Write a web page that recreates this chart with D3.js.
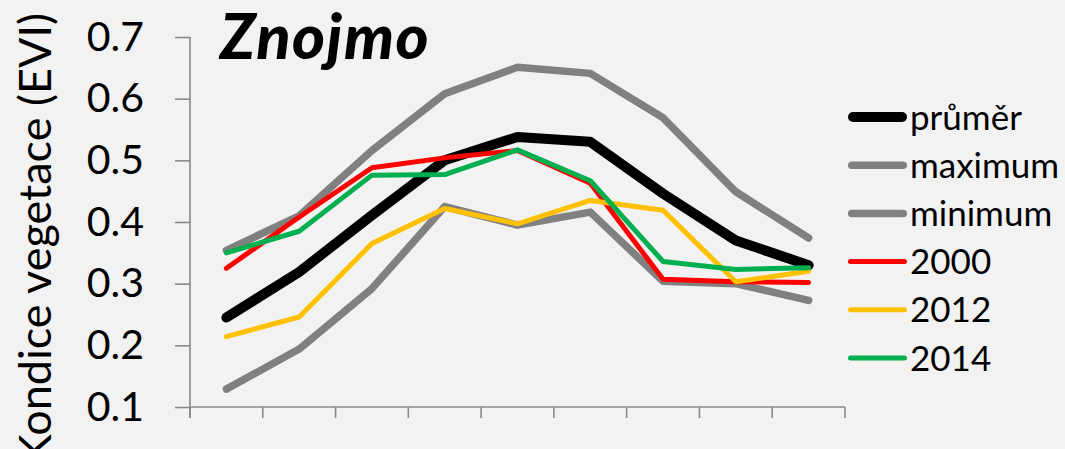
<!DOCTYPE html>
<html>
<head>
<meta charset="utf-8">
<script src="https://cdn.jsdelivr.net/npm/d3@7"></script>
<style>
  html, body { margin: 0; padding: 0; background: #f2f2f2; }
  svg { display: block; }
</style>
</head>
<body>
<svg id="chart" width="1065" height="449"></svg>
<script>
// Category labels: placeholder month numerals (assumed March–November);
// the real category names are not known. They sit below the visible area.
const months = ["III", "IV", "V", "VI", "VII", "VIII", "IX", "X", "XI"];

// Vegetation condition (EVI) per category
const prumer  = [0.245, 0.319, 0.411, 0.500, 0.538, 0.530, 0.446, 0.370, 0.330];
const maximum = [0.354, 0.410, 0.516, 0.608, 0.651, 0.641, 0.569, 0.449, 0.374];
const minimum = [0.129, 0.194, 0.292, 0.425, 0.395, 0.416, 0.304, 0.300, 0.273];
const y2000   = [0.325, 0.408, 0.488, 0.504, 0.516, 0.463, 0.307, 0.303, 0.302];
const y2012   = [0.214, 0.246, 0.365, 0.422, 0.397, 0.435, 0.419, 0.303, 0.320];
const y2014   = [0.350, 0.385, 0.476, 0.477, 0.517, 0.467, 0.336, 0.323, 0.326];

const yTicks = [0.1, 0.2, 0.3, 0.4, 0.5, 0.6, 0.7];
const yTitle = "Kondice vegetace (EVI)";
const title = "Znojmo";

const series = [
  { name: "průměr",  values: prumer,  color: "#000000", width: 10 },
  { name: "maximum", values: maximum, color: "#808080", width: 7.5 },
  { name: "minimum", values: minimum, color: "#808080", width: 7.5 },
  { name: "2000",    values: y2000,   color: "#ff0000", width: 5 },
  { name: "2012",    values: y2012,   color: "#ffc000", width: 5 },
  { name: "2014",    values: y2014,   color: "#00b050", width: 5 }
];

const svg = d3.select("#chart");
const font = "Lato, 'Open Sans', sans-serif";
const axisColor = "#898989";

const plot = { left: 190, right: 845, top: 37, bottom: 407 };

const x = d3.scaleBand().domain(months).range([plot.left, plot.right]).padding(0);
const y = d3.scaleLinear().domain([0.1, 0.7]).range([plot.bottom, plot.top]);
const cx = m => x(m) + x.bandwidth() / 2;

// Y axis
const yAxis = svg.append("g")
  .attr("transform", `translate(${plot.left},0)`)
  .call(d3.axisLeft(y).tickValues(yTicks).tickSize(15).tickPadding(31)
    .tickFormat(d3.format(".1f")));
yAxis.select(".domain").attr("stroke", axisColor).attr("stroke-width", 1.6)
  .attr("d", `M0,${plot.top}V${plot.bottom + 11}`);
yAxis.selectAll(".tick line").attr("stroke", axisColor).attr("stroke-width", 1.6);
yAxis.selectAll(".tick text")
  .attr("font-family", font).attr("font-size", 41).attr("fill", "#000");

// X axis with ticks between categories
const xAxis = svg.append("g")
  .attr("transform", `translate(0,${plot.bottom})`);
xAxis.append("line")
  .attr("x1", plot.left).attr("x2", plot.right)
  .attr("stroke", axisColor).attr("stroke-width", 1.6);
const bounds = months.map(m => x(m)).concat([plot.right]);
xAxis.selectAll("line.tk").data(bounds).join("line").attr("class", "tk")
  .attr("x1", d => d).attr("x2", d => d).attr("y1", 0).attr("y2", 11)
  .attr("stroke", axisColor).attr("stroke-width", 1.6);
xAxis.selectAll("text").data(months).join("text")
  .attr("transform", m => `translate(${cx(m)},60) rotate(-45)`)
  .attr("text-anchor", "end")
  .attr("font-family", font).attr("font-size", 34).attr("fill", "#000")
  .text(m => m);

// Series lines
const line = d3.line().x((d, i) => cx(months[i])).y(d => y(d));
svg.append("g").selectAll("path").data(series).join("path")
  .attr("d", s => line(s.values))
  .attr("fill", "none")
  .attr("stroke", s => s.color)
  .attr("stroke-width", s => s.width)
  .attr("stroke-linecap", "round")
  .attr("stroke-linejoin", "round");

// Title
svg.append("text")
  .attr("x", 220).attr("y", 59)
  .attr("font-family", font).attr("font-weight", 900).attr("font-style", "italic")
  .attr("font-size", 63).attr("letter-spacing", 1.5).attr("fill", "#000")
  .text(title);

// Y axis title
svg.append("text")
  .attr("transform", "translate(51,13) rotate(-90)")
  .attr("text-anchor", "end")
  .attr("font-family", font).attr("font-size", 45).attr("fill", "#000")
  .text(yTitle);

// Legend
const legend = svg.append("g");
const rowY = d3.scalePoint().domain(series.map(s => s.name)).range([117, 358]);
const row = legend.selectAll("g").data(series).join("g")
  .attr("transform", s => `translate(0,${rowY(s.name)})`);
row.append("line")
  .attr("x1", s => 848 + s.width / 2).attr("x2", s => 907 - s.width / 2)
  .attr("stroke", s => s.color).attr("stroke-width", s => s.width)
  .attr("stroke-linecap", "round");
row.append("text")
  .attr("x", 910).attr("dy", "0.36em")
  .attr("font-family", font).attr("font-size", 35).attr("fill", "#000")
  .text(s => s.name);
</script>
</body>
</html>
